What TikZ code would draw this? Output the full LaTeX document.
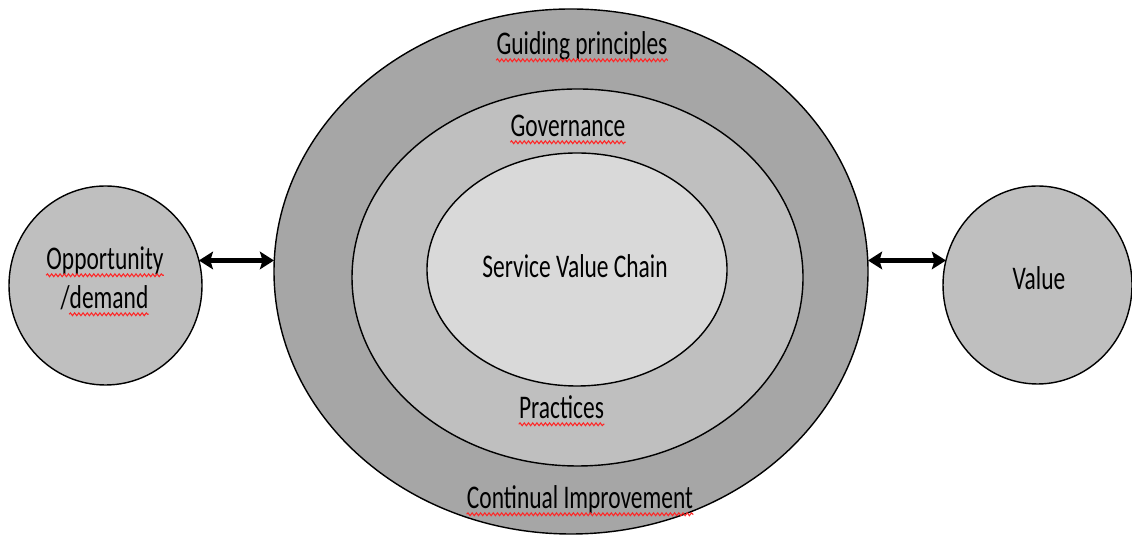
\documentclass[tikz,border=0pt]{standalone}
\usepackage{fontspec}
\setmainfont{Carlito}[FakeStretch=0.71]
\usetikzlibrary{
    arrows.meta,
    shapes.geometric,
    decorations.pathmorphing
}
\tikzset{
    % Colors
    outer gray/.style={fill=black!35},
    middle gray/.style={fill=black!25},
    inner gray/.style={fill=black!15},
    side gray/.style={fill=black!25},
    %
    % Shapes
    ring/.style={ellipse,draw=black,thick,inner sep=0pt,outer sep=0pt},
    layer text/.style={anchor=base,inner sep=0pt,font=\fontsize{18.8}{22}\selectfont},
    %
    % Arrows
    arrow tip/.tip={Stealth[length=8pt,width=10pt,inset=1.5pt]},
    biarr/.style={{arrow tip}-{arrow tip},line width=2.6pt},
    %
    % Spell check marks
    spell/.style={red!85!white,line width=0.6pt,decorate,decoration={snake,amplitude=0.8pt,segment length=2.4pt}}
}

\begin{document}
\begin{tikzpicture}
        \useasboundingbox (0,0) rectangle (22.64,10.72);
        \node[ring,outer gray,minimum width=11.88cm,minimum height=10.5cm] (outer) at (11.42,5.29) {};
        \node[ring,middle gray,minimum width=9.02cm,minimum height=7.54cm] (middle) at (11.55,5.17) {};
        \node[ring,inner gray,minimum width=6cm,minimum height=4.66cm] (inner) at (11.54,5.33) {};
        \node[ring,side gray,minimum width=3.86cm,minimum height=3.98cm] (opp) at (2.11,5.01) {};
        \node[ring,side gray,minimum width=3.78cm,minimum height=3.96cm] (val) at (20.75,5.02) {};
        
        \draw[biarr] (opp.15) -- (opp.15 -| outer.west);
        \draw[biarr] (val.165 -| outer.east) -- (val.165);
        
        \node[layer text] (gp) at (11.64,9.62) {Guiding principles};
        \node[layer text] (gov) at (11.36,7.98) {Governance};
        \node[layer text] (svc) at (11.5,5.16) {Service Value Chain};
        \node[layer text] (pra) at (11.23,2.34) {Practices};
        \node[layer text] (ci) at (11.6,0.54) {Continual Improvement};
        \node[layer text] (opp1) at (2.1,5.32) {Opportunity};
        \node[layer text] (opp2) at (2.09,4.54) {/demand};
        \node[layer text] (vtx) at (20.78,4.92) {Value};
        
        \foreach \n in {gp,gov,pra,ci,opp1}{
            \draw[spell] ([yshift=-3pt]\n.base west) -- ([yshift=-3pt]\n.base east);
        }
        \draw[spell] ([xshift=5pt,yshift=-3pt]opp2.base west) -- ([yshift=-3pt]opp2.base east);
    \end{tikzpicture}
\end{document}
